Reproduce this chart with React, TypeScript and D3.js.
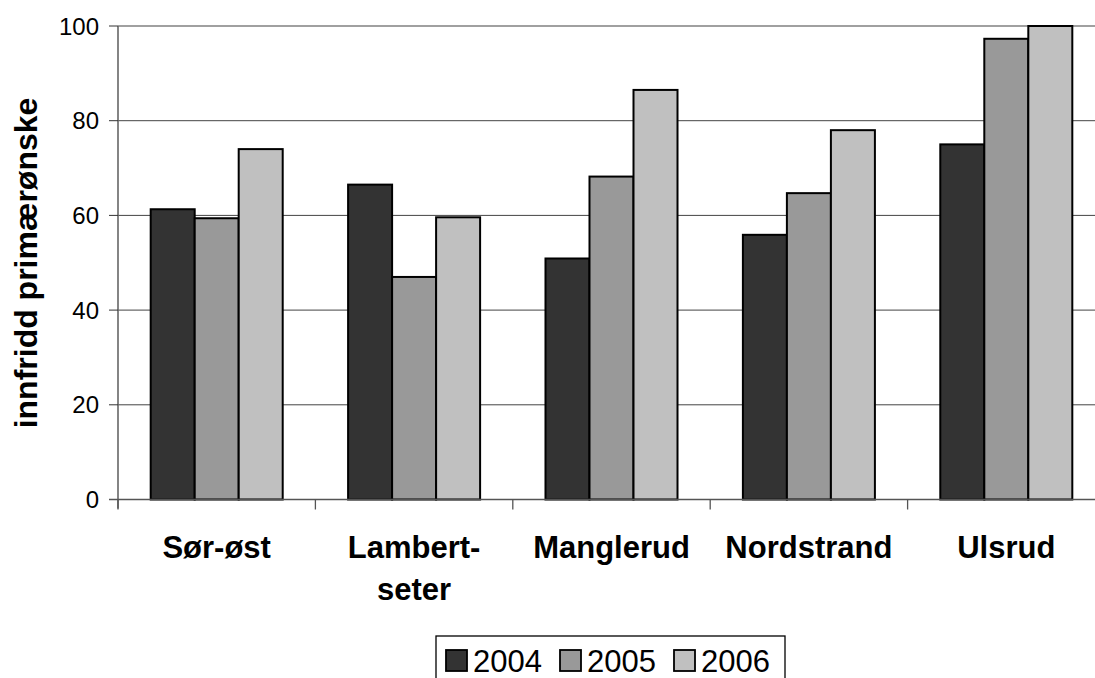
import React from "react";
import * as d3 from "d3";

const categories = ["Sør-øst", "Lambert-\nseter", "Manglerud", "Nordstrand", "Ulsrud"];
const years = ["2004", "2005", "2006"];
const values2004 = [61.3, 66.5, 50.9, 55.9, 75.0];
const values2005 = [59.4, 47.0, 68.2, 64.7, 97.3];
const values2006 = [74.0, 59.6, 86.5, 78.0, 100];
const yTicks = [0, 20, 40, 60, 80, 100];
const colors = ["#333333", "#999999", "#c0c0c0"];
const yTitle = "innfridd primærønske";

const W = 1095;
const H = 678;
const left = 118;
const top = 26;
const bottom = 499.5;
const right = 118 + 5 * 197.4;

export default function App() {
  const series = [values2004, values2005, values2006];
  const x = d3.scaleBand<string>().domain(categories).range([left, right]).padding(0);
  const xi = d3
    .scaleBand<string>()
    .domain(years)
    .range([0, x.bandwidth()])
    .paddingInner(0)
    .paddingOuter(0.743);
  const y = d3.scaleLinear().domain([0, 100]).range([bottom, top]);
  const font = "'Liberation Sans', Arial, sans-serif";
  const boundaries = categories.map((c) => x(c) as number).concat([right]);

  return (
    <svg
      width={W}
      height={H}
      style={{ position: "absolute", left: 0, top: 0, background: "#fff" }}
      fontFamily={font}
    >
      {/* gridlines */}
      {yTicks.filter((t) => t > 0).map((t) => (
        <line
          key={"g" + t}
          x1={left}
          x2={right}
          y1={y(t)}
          y2={y(t)}
          stroke={t === 100 ? "#808080" : "#444"}
          strokeWidth={t === 100 ? 1.6 : 1}
        />
      ))}
      {/* bars */}
      {categories.map((c, ci) =>
        years.map((yr, si) => {
          const v = series[si][ci];
          const bx = (x(c) as number) + (xi(yr) as number);
          return (
            <rect
              key={c + yr}
              x={bx}
              y={y(v)}
              width={xi.bandwidth()}
              height={y(0) - y(v)}
              fill={colors[si]}
              stroke="#000"
              strokeWidth={2}
            />
          );
        })
      )}
      {/* y axis */}
      <line x1={left} x2={left} y1={top} y2={bottom + 9} stroke="#666" strokeWidth={1.6} />
      {yTicks.map((t) => (
        <g key={"t" + t}>
          <line x1={left - 9} x2={left} y1={y(t)} y2={y(t)} stroke="#333" strokeWidth={1} />
          <text x={99} y={y(t)} dy="0.36em" textAnchor="end" fontSize={24} fill="#000">
            {t}
          </text>
        </g>
      ))}
      {/* x axis */}
      <line x1={left - 9} x2={right} y1={bottom} y2={bottom} stroke="#555" strokeWidth={1.6} />
      {boundaries.map((b, i) => (
        <line key={"xb" + i} x1={b} x2={b} y1={bottom} y2={bottom + 10} stroke="#555" strokeWidth={1.3} />
      ))}
      {categories.map((c) => {
        const cx = (x(c) as number) + x.bandwidth() / 2;
        const lines = c.split("\n");
        return (
          <text key={"xl" + c} x={cx} y={558} textAnchor="middle" fontSize={31} fontWeight="bold" fill="#000">
            {lines.map((ln, i) => (
              <tspan key={i} x={cx} dy={i === 0 ? 0 : 42}>
                {ln}
              </tspan>
            ))}
          </text>
        );
      })}
      {/* y title */}
      <text
        transform={`translate(37, 263) rotate(-90)`}
        textAnchor="middle"
        fontSize={32}
        fontWeight="bold"
        fill="#000"
      >
        {yTitle}
      </text>
      {/* legend */}
      <rect x={436} y={636} width={349} height={60} fill="#fff" stroke="#000" strokeWidth={1.3} />
      {years.map((yr, i) => {
        const lx = 446 + i * 114;
        return (
          <g key={"lg" + yr}>
            <rect x={lx} y={650} width={21} height={21} fill={colors[i]} stroke="#000" strokeWidth={1.8} />
            <text x={lx + 27} y={672} fontSize={31} fill="#000">
              {yr}
            </text>
          </g>
        );
      })}
    </svg>
  );
}
